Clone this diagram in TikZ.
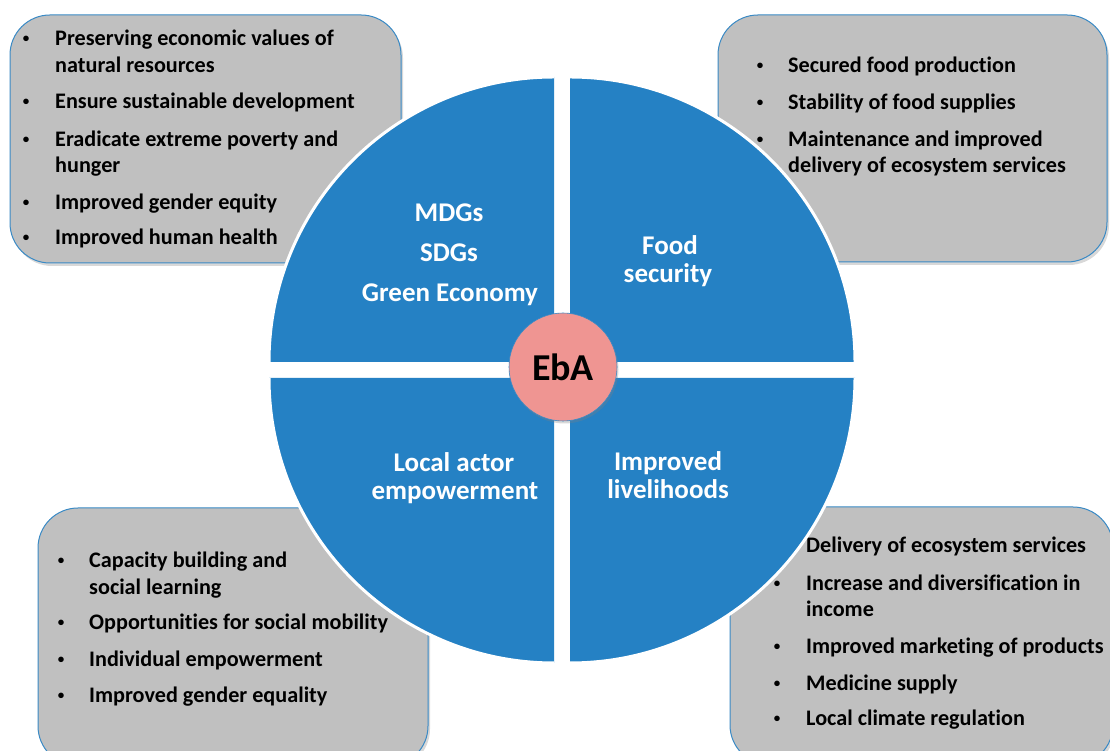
\documentclass[tikz,border=0pt]{standalone}
\usepackage{fontspec}
\setmainfont{Carlito}[Ligatures=NoCommon]
\usetikzlibrary{shadows}
\definecolor{quadblue}{HTML}{2581C4}
\definecolor{boxgray}{HTML}{C0C0C0}
\definecolor{boxborder}{HTML}{3A8AC5}
\definecolor{ebapink}{HTML}{EF9592}
\begin{document}
\begin{tikzpicture}[x=1pt,y=1pt,
  boxstyle/.style={fill=boxgray, draw=boxborder, line width=1pt, rounded corners=40pt,
    drop shadow={shadow xshift=2pt, shadow yshift=-3pt, opacity=0.3}},
  item/.style={anchor=base west, inner sep=0pt, text=black, font=\bfseries\fontsize{22.2}{26}\selectfont},
  dot/.style={anchor=base, inner sep=0pt, text=black, yshift=3pt, font=\bfseries\fontsize{13}{15}\selectfont},
  qtext/.style={anchor=base, inner sep=0pt, text=white, font=\bfseries\fontsize{27}{30}\selectfont},
  rim/.style={draw=white, line width=3pt}
]
\useasboundingbox (0,0) rectangle (1110,751);
\clip (0,0) rectangle (1110,751);
\fill[white] (0,0) rectangle (1110,751);

% ---------- boxes ----------
\path[boxstyle] (10,736) rectangle (401,488);
\path[boxstyle] (718,736) rectangle (1107,489);
\path[boxstyle] (38,243) rectangle (428,-15);
\path[boxstyle] (730,244) rectangle (1113,-14);

% top-left box
\node[dot] (tlb1) at (26,705) {•};
\node[item] (tl1) at (55,705) {Preserving economic values of};
\node[item] (tl1c) at (55,678) {natural resources};
\node[dot] (tlb2) at (26,642) {•};
\node[item] (tl2) at (55,642) {Ensure sustainable development};
\node[dot] (tlb3) at (26,604) {•};
\node[item] (tl3) at (55,604) {Eradicate extreme poverty and};
\node[item] (tl3c) at (55,578) {hunger};
\node[dot] (tlb4) at (26,541) {•};
\node[item] (tl4) at (55,541) {Improved gender equity};
\node[dot] (tlb5) at (26,506) {•};
\node[item] (tl5) at (55,506) {Improved human health};

% top-right box
\node[dot] (trb1) at (760,678) {•};
\node[item] (tr1) at (788,678) {Secured food production};
\node[dot] (trb2) at (760,641) {•};
\node[item] (tr2) at (788,641) {Stability of food supplies};
\node[dot] (trb3) at (760,604) {•};
\node[item] (tr3) at (788,604) {Maintenance and improved};
\node[item] (tr3c) at (788,578) {delivery of ecosystem services};

% bottom-left box
\node[dot] (blb1) at (61,183) {•};
\node[item] (bl1) at (89,183) {Capacity building and};
\node[item] (bl1c) at (89,156) {social learning};
\node[dot] (blb2) at (61,121) {•};
\node[item] (bl2) at (89,121) {Opportunities for social mobility};
\node[dot] (blb3) at (61,84) {•};
\node[item] (bl3) at (89,84) {Individual empowerment};
\node[dot] (blb4) at (61,48) {•};
\node[item] (bl4) at (89,48) {Improved gender equality};

% bottom-right box
\node[dot] (brb1) at (777,198) {•};
\node[item] (br1) at (806,198) {Delivery of ecosystem services};
\node[dot] (brb2) at (777,160) {•};
\node[item] (br2) at (806,160) {Increase and diversification in};
\node[item] (br2c) at (806,134) {income};
\node[dot] (brb3) at (777,97) {•};
\node[item] (br3) at (806,97) {Improved marketing of products};
\node[dot] (brb4) at (777,60) {•};
\node[item] (br4) at (806,60) {Medicine supply};
\node[dot] (brb5) at (777,25) {•};
\node[item] (br5) at (806,25) {Local climate regulation};

% ---------- quadrants ----------
\fill[quadblue] (554,389) -- (269,389) arc[start angle=180,end angle=90,radius=285] -- cycle;
\fill[quadblue] (570,389) -- (855,389) arc[start angle=0,end angle=90,radius=285] -- cycle;
\fill[quadblue] (554,373) -- (269,373) arc[start angle=180,end angle=270,radius=285] -- cycle;
\fill[quadblue] (570,373) -- (855,373) arc[start angle=0,end angle=-90,radius=285] -- cycle;
\path[rim] (269,389) arc[start angle=180,end angle=90,radius=285];
\path[rim] (855,389) arc[start angle=0,end angle=90,radius=285];
\path[rim] (269,373) arc[start angle=180,end angle=270,radius=285];
\path[rim] (855,373) arc[start angle=0,end angle=-90,radius=285];

% quadrant texts
\node[qtext] (mdg) at (449,529) {MDGs};
\node[qtext] (sdg) at (449,489) {SDGs};
\node[qtext] (green) at (450,449) {Green Economy};
\node[qtext] (food) at (670,496) {Food};
\node[qtext] (secur) at (668,468) {security};
\node[qtext] (local) at (454,279) {Local actor};
\node[qtext] (empow) at (455,251) {empowerment};
\node[qtext] (impr) at (668,280) {Improved};
\node[qtext] (liveli) at (668,252) {livelihoods};

% ---------- centre ----------
\node[circle, fill=ebapink, draw=boxborder, line width=0.6pt, minimum size=108pt, inner sep=0pt,
  drop shadow={shadow xshift=1.5pt, shadow yshift=-2.5pt, opacity=0.3},
  font=\bfseries\fontsize{38}{40}\selectfont] (eba) at (563,384) {EbA};
\end{tikzpicture}
\end{document}
